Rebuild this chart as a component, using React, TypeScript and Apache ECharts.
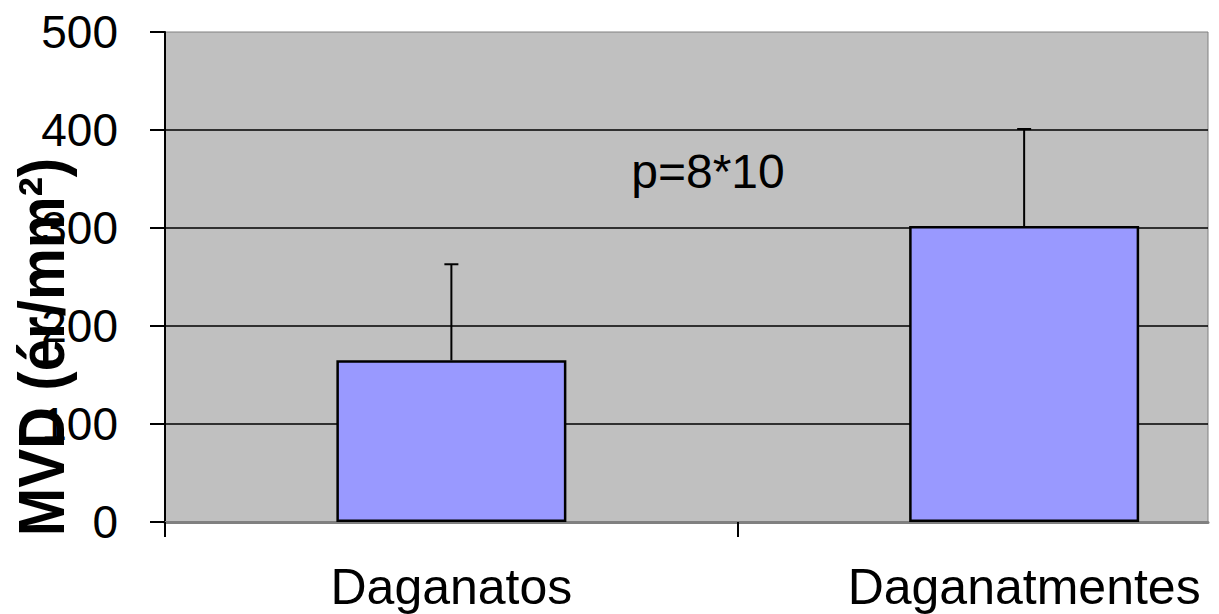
import React, { useEffect, useRef } from "react";
import * as echarts from "echarts";

const categories = ["Daganatos", "Daganatmentes"];
const means = [165, 302];
const sds = [98, 99];
const yTicks = [0, 100, 200, 300, 400, 500];
const yTitle = "MVD (ér/mm²)";
const pText = "p=8*10";

export default function App() {
  const ref = useRef<HTMLDivElement>(null);
  useEffect(() => {
    document.body.style.margin = "0";
    if (!ref.current) return;
    const chart = echarts.init(ref.current, undefined, { renderer: "svg" });
    const xPos = categories.map((_, i) => i + 0.5);
    const barData = means.map((v, i) => [xPos[i], v]);
    const errData = means.map((v, i) => [xPos[i], v, sds[i]]);
    const font = "'Liberation Sans', Arial, sans-serif";
    chart.setOption({
      animation: false,
      backgroundColor: "#ffffff",
      grid: {
        left: 165,
        top: 32,
        right: 11,
        bottom: 92,
        show: true,
        backgroundColor: "#C0C0C0",
        borderColor: "#808080",
        borderWidth: 1,
      },
      xAxis: {
        type: "value",
        min: 0,
        max: 1.821,
        splitLine: { show: false },
        axisLine: { show: true, lineStyle: { color: "#808080", width: 3 } },
        axisTick: {
          show: true,
          customValues: [0, 1],
          length: 15,
          lineStyle: { color: "#000", width: 2 },
        },
        axisLabel: {
          show: true,
          customValues: xPos,
          formatter: (v: number) => categories[Math.floor(v)] ?? "",
          fontFamily: font,
          fontSize: 50,
          color: "#000",
          margin: 40,
        },
      },
      yAxis: {
        type: "value",
        min: yTicks[0],
        max: yTicks[yTicks.length - 1],
        interval: 100,
        axisLine: { show: true, lineStyle: { color: "#000", width: 2 } },
        axisTick: { show: true, length: 15, lineStyle: { color: "#000", width: 2 } },
        splitLine: {
          show: true,
          showMinLine: false,
          showMaxLine: false,
          lineStyle: { color: "#000", width: 1.5 },
        },
        axisLabel: {
          fontFamily: font,
          fontSize: 46,
          color: "#000",
          margin: 47,
        },
      },
      graphic: [
        {
          type: "text",
          x: 708,
          y: 171,
          z: 50,
          style: {
            text: pText,
            font: "48px 'Liberation Sans', Arial, sans-serif",
            fill: "#000",
            textAlign: "center",
            textVerticalAlign: "middle",
          },
        },
        {
          type: "text",
          x: 42,
          y: 347,
          rotation: Math.PI / 2,
          scaleX: 0.91,
          z: 100,
          style: {
            text: yTitle,
            font: "bold 64px 'Liberation Sans', Arial, sans-serif",
            fill: "#000",
            textAlign: "center",
            textVerticalAlign: "middle",
          },
        },
      ],
      series: [
        {
          type: "bar",
          data: barData,
          barWidth: 230,
          itemStyle: { color: "#9999FF", borderColor: "#000", borderWidth: 2.5 },
          z: 2,
        },
        {
          type: "custom",
          data: errData,
          encode: { x: 0, y: 1 },
          z: 5,
          renderItem: (params: any, api: any) => {
            const x = api.value(0);
            const m = api.value(1);
            const s = api.value(2);
            const base = api.coord([x, m]);
            const top = api.coord([x, m + s]);
            const half = 7;
            return {
              type: "group",
              children: [
                {
                  type: "line",
                  shape: { x1: base[0], y1: base[1], x2: top[0], y2: top[1] },
                  style: { stroke: "#000", lineWidth: 2 },
                },
                {
                  type: "line",
                  shape: { x1: top[0] - half, y1: top[1], x2: top[0] + half, y2: top[1] },
                  style: { stroke: "#000", lineWidth: 2 },
                },
              ],
            };
          },
        },
      ],
    });
    return () => chart.dispose();
  }, []);
  return <div ref={ref} style={{ width: 1219, height: 614 }} />;
}
